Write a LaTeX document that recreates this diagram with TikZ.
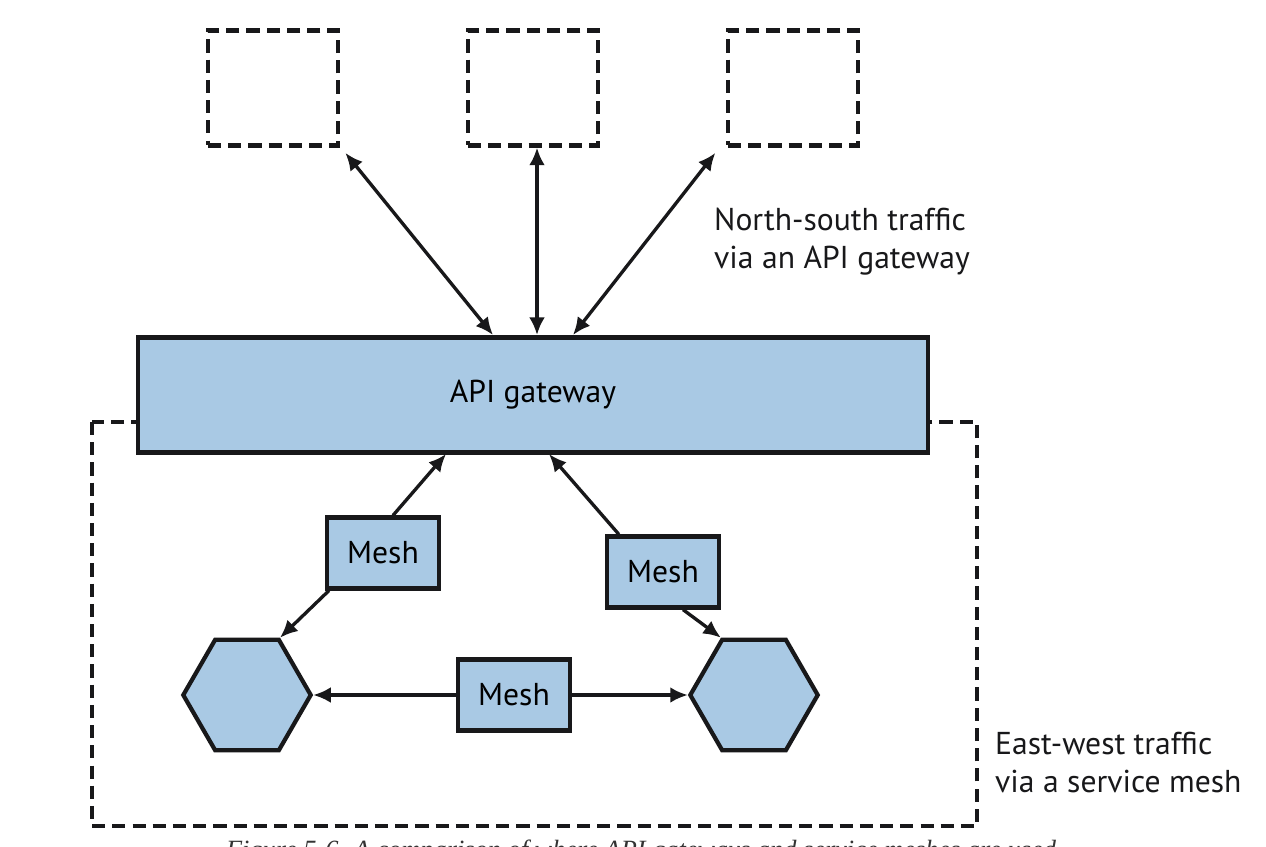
\documentclass[tikz,border=0pt]{standalone}
\usepackage{fontspec}
\setmainfont{PT Sans}
\newfontfamily\capfont{Liberation Serif}
\usetikzlibrary{positioning,arrows.meta,shapes.geometric}
\definecolor{meshblue}{RGB}{169, 201, 228}
\definecolor{inkdark}{RGB}{24, 24, 26}

\tikzset{
  client/.style={draw=inkdark, line width=2.4pt, dash pattern=on 7.5pt off 4pt,
    minimum width=2.6cm, minimum height=2.3cm},
  gateway/.style={draw=inkdark, fill=meshblue, line width=2.4pt,
    minimum width=15.8cm, minimum height=2.3cm, font=\fontsize{18}{21}\selectfont},
  meshbox/.style={draw=inkdark, fill=meshblue, line width=2.4pt,
    minimum width=2.24cm, minimum height=1.42cm, font=\fontsize{18}{21}\selectfont},
  service/.style={draw=inkdark, fill=meshblue, line width=2.4pt,
    regular polygon, regular polygon sides=6, minimum size=2.55cm, inner sep=0pt},
  flow/.style={line width=1.9pt, draw=inkdark, >={Latex[length=10pt,width=9pt]}},
  note/.style={align=left, anchor=north west, text=inkdark,
    font=\fontsize{18}{21.5}\selectfont}
}

\begin{document}
\begin{tikzpicture}[x=0.02cm, y=-0.02cm]
  \useasboundingbox (0,0) rectangle (1266,846);

  % Outside clients
  \node[client] (ns1) at (273,88) {};
  \node[client] (ns2) at (533,88) {};
  \node[client] (ns3) at (793,88) {};

  % Service mesh region
  \draw[inkdark, line width=2.4pt, dash pattern=on 7.5pt off 4pt] (92,422) rectangle (977,826);

  % Gateway
  \node[gateway] (gw) at (533,395) {API gateway};
  \coordinate (gwa) at (493,335);
  \coordinate (gwb) at (537,335);
  \coordinate (gwc) at (573,335);
  \coordinate (gwd) at (446,454);
  \coordinate (gwe) at (549,454);

  % Mesh proxies and services
  \node[meshbox] (mesh1) at (383,553) {Mesh};
  \node[meshbox] (mesh2) at (663,572) {Mesh};
  \node[meshbox] (mesh3) at (514,695) {Mesh};
  \node[service] (svc1) at (247,695) {};
  \node[service] (svc2) at (754,695) {};

  % North-south traffic
  \draw[flow, <->] ([shift={(3pt,-3pt)}]ns1.south east) -- (gwa);
  \draw[flow, <->] (ns2.south -| gwb) -- (gwb);
  \draw[flow, <->] ([shift={(-6pt,-3pt)}]ns3.south west) -- (gwc);

  % East-west traffic
  \draw[flow, ->] (mesh1.north) ++(10,0) -- (gwd);
  \draw[flow, ->] (mesh1.south west) ++(4,0) -- (svc1.60);
  \draw[flow, ->] (mesh2.north west) ++(14,0) -- (gwe);
  \draw[flow, ->] (mesh2.south) ++(20,0) -- (svc2.120);
  \draw[flow, ->] (mesh3.west) -- (svc1.0);
  \draw[flow, ->] (mesh3.east) -- (svc2.180);

  % Labels
  \node[note] (nslabel) at (708,202) {North-south traffic\\via an API gateway};
  \node[note] (ewlabel) at (989,726) {East-west traffic\\via a service mesh};

  % Caption (cut off by the page edge)
  \node[anchor=base, text=black!80, font=\capfont\itshape\fontsize{15}{18}\selectfont]
    (caption) at (641,858) {Figure 5-6. A comparison of where API gateways and service meshes are used};
\end{tikzpicture}
\end{document}
